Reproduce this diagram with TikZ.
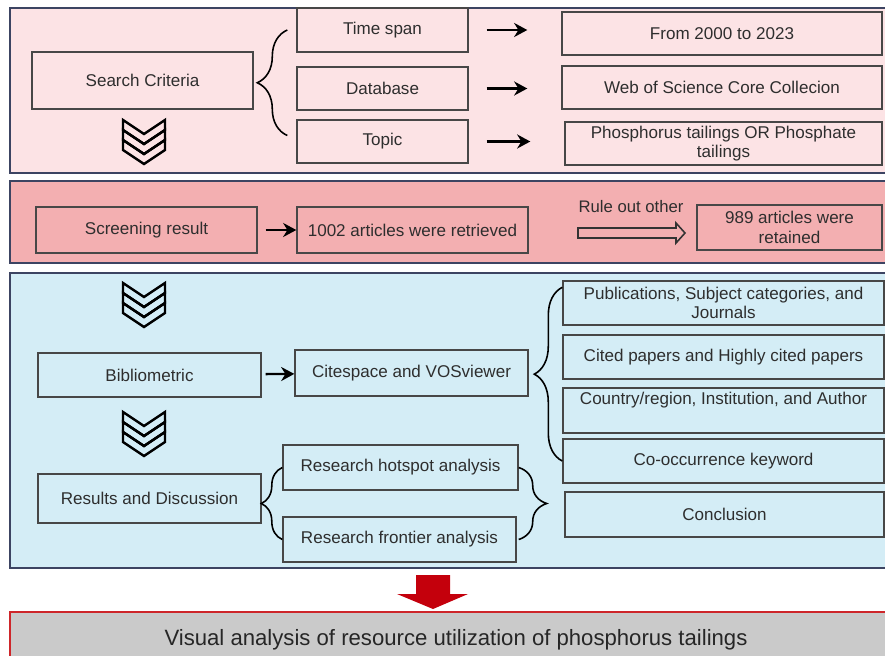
\documentclass[tikz,border=0pt]{standalone}
\usepackage{fontspec}
\setmainfont{Liberation Sans}
\usetikzlibrary{arrows.meta,decorations.pathreplacing}

\definecolor{pinktop}{RGB}{252,227,229}
\definecolor{pinkmid}{RGB}{243,175,177}
\definecolor{bluebot}{RGB}{212,237,246}
\definecolor{frame}{RGB}{60,68,98}
\definecolor{barred}{RGB}{206,38,42}
\definecolor{bargray}{RGB}{202,202,202}
\definecolor{droprd}{RGB}{196,0,12}

\begin{document}
\begin{tikzpicture}[
  >=Stealth,
  panel/.style={draw=frame,line width=0.9pt},
  box/.style={draw=black!72,line width=0.8pt,rectangle,align=center,
    text=black!82,font=\fontsize{9.7}{11}\selectfont,inner sep=1pt},
  link/.style={->,line width=1.3pt,>={Stealth[length=7.5pt,width=8pt]}},
  brace/.style={decorate,line width=0.9pt,
    decoration={brace,amplitude=#1}},
  chev/.style={draw=black,line width=1.4pt,fill=#1},
]
  \useasboundingbox (0,0) rectangle (17.7,-13.1);
  \clip (0,0) rectangle (17.7,-13.1);

  % panels
  \draw[panel,fill=pinktop] (0.2,-0.16) rectangle (17.9,-3.46);
  \draw[panel,fill=pinkmid] (0.2,-3.62) rectangle (17.9,-5.26);
  \draw[panel,fill=bluebot] (0.2,-5.46) rectangle (17.9,-11.36);

  % search criteria
  \node[box,fill=pinktop,minimum width=4.42cm,minimum height=1.14cm] (crit) at (2.85,-1.61) {Search Criteria};
  \node[box,fill=pinktop,minimum width=3.42cm,minimum height=0.88cm] (span) at (7.65,-0.60) {Time span};
  \node[box,fill=pinktop,minimum width=3.42cm,minimum height=0.86cm] (dbase) at (7.65,-1.77) {Database};
  \node[box,fill=pinktop,minimum width=3.42cm,minimum height=0.86cm] (topic) at (7.65,-2.83) {Topic};
  \node[box,fill=pinktop,minimum width=6.40cm,minimum height=0.86cm] (years) at (14.44,-0.67) {From 2000 to 2023};
  \node[box,fill=pinktop,minimum width=6.40cm,minimum height=0.86cm] (wos) at (14.44,-1.75) {Web of Science Core Collecion};
  \node[box,fill=pinktop,minimum width=6.34cm,minimum height=0.86cm] (terms) at (14.47,-2.87) {Phosphorus tailings OR Phosphate\\tailings};
  \foreach \a/\b in {span/years,dbase/wos,topic/terms}
    \draw[link,shorten <=0.36cm,shorten >=0.68cm] (\a.east) -- (\a.east -| \b.west);
  \draw[brace=0.6cm] ([xshift=-0.18cm,yshift=0.12cm]topic.west) -- ([xshift=-0.18cm]span.west);

  % screening
  \node[box,fill=pinkmid,minimum width=4.42cm,minimum height=0.92cm] (screen) at (2.93,-4.60) {Screening result};
  \node[box,fill=pinkmid,minimum width=4.62cm,minimum height=0.92cm] (found) at (8.25,-4.60) {1002 articles were retrieved};
  \node[box,fill=pinkmid,minimum width=3.70cm,minimum height=0.90cm] (kept) at (15.79,-4.55) {989 articles were\\retained};
  \draw[link,shorten <=0.16cm] (screen) -- (found);
  \coordinate (out) at (11.56,-4.66);
  \draw[line width=0.9pt,draw=black!80,fill=pinkmid]
    (out) ++(0,0.1) -- ++(1.96,0) -- ++(0,0.1) -- ++(0.18,-0.2)
    -- ++(-0.18,-0.2) -- ++(0,0.1) -- ++(-1.96,0) -- cycle;
  \node[font=\fontsize{9.5}{11}\selectfont,text=black!82] (rule) at (12.62,-4.13) {Rule out other};

  % bibliometric analysis
  \node[box,fill=bluebot,minimum width=4.46cm,minimum height=0.88cm] (biblio) at (2.99,-7.50) {Bibliometric};
  \node[box,fill=bluebot,minimum width=4.66cm,minimum height=0.92cm] (tools) at (8.23,-7.46) {Citespace and VOSviewer};
  \node[box,fill=bluebot,minimum width=4.46cm,minimum height=0.98cm] (results) at (2.99,-9.97) {Results and Discussion};
  \node[box,fill=bluebot,minimum width=4.70cm,minimum height=0.90cm] (hot) at (8.01,-9.35) {Research hotspot analysis};
  \node[box,fill=bluebot,minimum width=4.66cm,minimum height=0.90cm] (front) at (7.99,-10.79) {Research frontier analysis};
  \node[box,fill=bluebot,minimum width=6.42cm,minimum height=0.88cm] (pubs) at (14.47,-6.06) {Publications, Subject categories, and\\Journals};
  \node[box,fill=bluebot,minimum width=6.42cm,minimum height=0.88cm] (cited) at (14.47,-7.14) {Cited papers and Highly cited papers};
  \node[box,fill=bluebot,minimum width=6.42cm,minimum height=0.90cm] (ctry) at (14.47,-8.21) {Country/region, Institution, and Author\\\strut};
  \node[box,fill=bluebot,minimum width=6.42cm,minimum height=0.88cm] (cooc) at (14.47,-9.22) {Co-occurrence keyword};
  \node[box,fill=bluebot,minimum width=6.38cm,minimum height=0.90cm] (concl) at (14.49,-10.29) {Conclusion};
  \draw[link,shorten <=0.08cm] (biblio) -- (tools);
  \draw[brace=0.56cm] (cooc.west) -- ([yshift=-0.14cm]pubs.north west);
  \draw[brace=0.42cm] (front.west) -- (hot.west);
  \draw[brace=0.56cm] (hot.east) -- (hot.east |- front.east);

  % chevrons
  \foreach \y in {-2.40,-5.66,-8.24}
    \foreach \k in {0,1,2}
      \draw[chev=none] (2.46,\y-0.2*\k) -- ++(0.42,-0.28) -- ++(0.42,0.28)
        -- ++(0,-0.2) -- ++(-0.42,-0.28) -- ++(-0.42,0.28) -- cycle;

  % result
  \coordinate (drop) at (8.66,-11.50);
  \fill[droprd] (drop) ++(-0.34,0) -- ++(0.68,0) -- ++(0,-0.38) -- ++(0.36,0)
    -- (8.66,-12.18) -- (7.94,-11.88) -- ++(0.38,0) -- cycle;
  \node[draw=barred,line width=1pt,fill=bargray,minimum width=17.6cm,minimum height=1.1cm,
    text=black!85,font=\fontsize{12.6}{14}\selectfont] (final) at (9.0,-12.79)
    {\hspace*{0.24cm}Visual analysis of resource utilization of phosphorus tailings};
\end{tikzpicture}
\end{document}
